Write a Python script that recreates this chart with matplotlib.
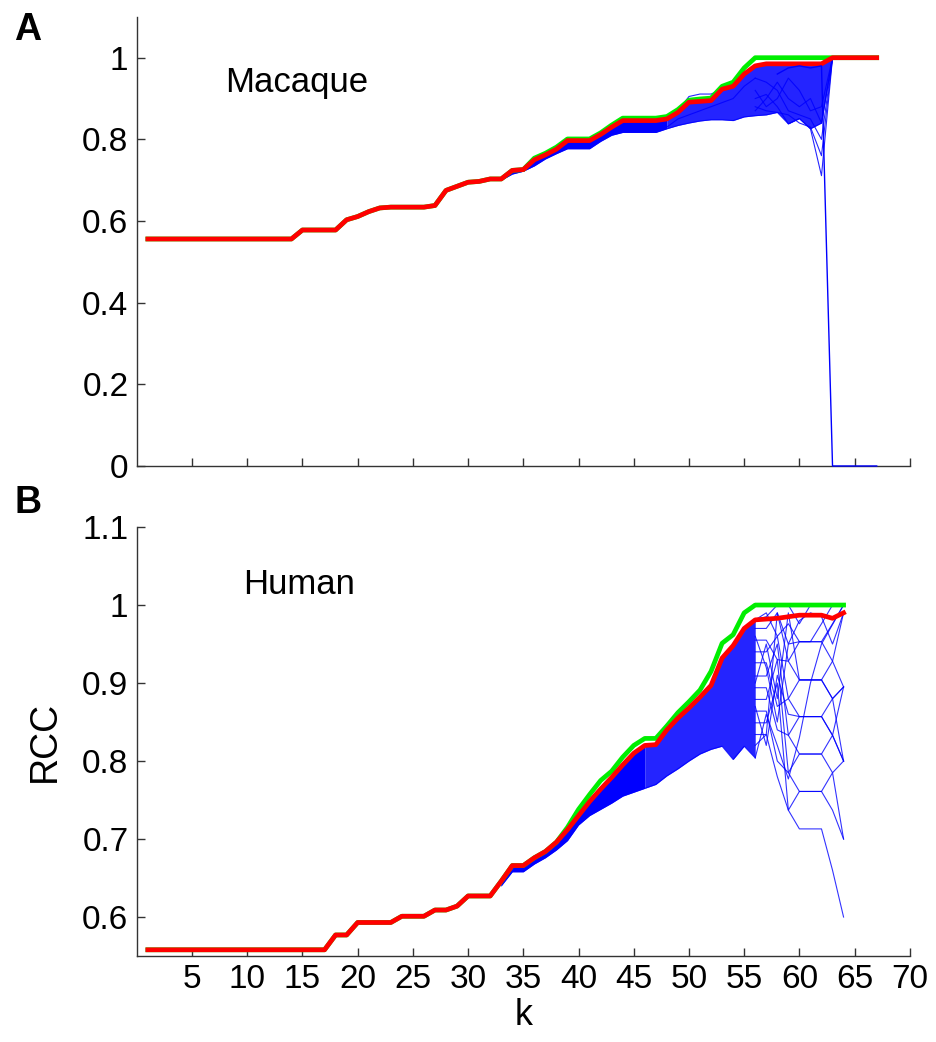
import matplotlib
matplotlib.use("Agg")
import matplotlib.pyplot as plt
import numpy as np

plt.rcParams["font.family"] = ["Liberation Sans", "DejaVu Sans"]

# ---- Panel A: macaque ----
k_mac = np.arange(1, 68)
mac_red = [0.556, 0.556, 0.556, 0.556, 0.556, 0.556, 0.556, 0.556, 0.556, 0.556,
           0.556, 0.556, 0.556, 0.556, 0.578, 0.578, 0.578, 0.578, 0.603, 0.611,
           0.623, 0.632, 0.634, 0.634, 0.634, 0.634, 0.638, 0.675, 0.685, 0.695,
           0.697, 0.703, 0.703, 0.724, 0.726, 0.750, 0.762, 0.776, 0.797, 0.797,
           0.797, 0.812, 0.830, 0.846, 0.846, 0.846, 0.846, 0.850, 0.866, 0.891,
           0.893, 0.895, 0.923, 0.930, 0.960, 0.980, 0.985, 0.985, 0.985, 0.985,
           0.985, 0.985, 1.000, 1.000, 1.000, 1.000, 1.000]
mac_green = [0.556, 0.556, 0.556, 0.556, 0.556, 0.556, 0.556, 0.556, 0.556, 0.556,
             0.556, 0.556, 0.556, 0.556, 0.578, 0.578, 0.578, 0.578, 0.603, 0.611,
             0.623, 0.632, 0.634, 0.634, 0.634, 0.634, 0.638, 0.675, 0.685, 0.695,
             0.697, 0.703, 0.703, 0.724, 0.726, 0.754, 0.766, 0.781, 0.801, 0.801,
             0.801, 0.816, 0.835, 0.852, 0.852, 0.852, 0.852, 0.856, 0.873, 0.896,
             0.899, 0.901, 0.930, 0.940, 0.975, 1.000, 1.000, 1.000, 1.000, 1.000,
             1.000, 1.000, 1.000, 1.000, 1.000, 1.000, 1.000]
# lower edge of the random-network bundle
mac_env_k = np.arange(33, 64)
mac_env = [0.700, 0.715, 0.722, 0.735, 0.752, 0.765, 0.777, 0.777, 0.777, 0.795,
           0.810, 0.817, 0.817, 0.817, 0.817, 0.826, 0.834, 0.840, 0.845, 0.848,
           0.848, 0.846, 0.855, 0.858, 0.860, 0.866, 0.838, 0.851, 0.826, 0.840,
           1.000]
# single random curves that stand out
mac_blue_lines = [
    (np.arange(43, 55), [0.835, 0.852, 0.852, 0.852, 0.852, 0.852, 0.870, 0.905,
                         0.911, 0.911, 0.923, 0.930]),
    (np.arange(56, 64), [0.900, 0.910, 0.880, 0.838, 0.851, 0.826, 0.711, 1.000]),
    (np.arange(56, 64), [0.880, 0.870, 0.866, 0.860, 0.840, 0.830, 0.760, 1.000]),
    (np.arange(56, 64), [0.950, 0.940, 0.920, 0.870, 0.860, 0.850, 0.800, 1.000]),
    (np.arange(56, 64), [0.870, 0.900, 0.940, 0.900, 0.880, 0.900, 0.840, 1.000]),
    (np.arange(56, 64), [0.920, 0.880, 0.900, 0.950, 0.920, 0.870, 0.880, 1.000]),
    (np.arange(48, 57), [0.830, 0.850, 0.860, 0.870, 0.880, 0.890, 0.900, 0.930, 0.950]),
]
mac_drop_k = np.arange(58, 68)
mac_drop = [0.960, 0.975, 0.980, 0.975, 0.980, 0.000, 0.000, 0.000, 0.000, 0.000]

# ---- Panel B: human ----
k_hum = np.arange(1, 65)
hum_red = [0.558, 0.558, 0.558, 0.558, 0.558, 0.558, 0.558, 0.558, 0.558, 0.558,
           0.558, 0.558, 0.558, 0.558, 0.558, 0.558, 0.558, 0.577, 0.577, 0.593,
           0.593, 0.593, 0.593, 0.601, 0.601, 0.601, 0.609, 0.609, 0.614, 0.627,
           0.627, 0.627, 0.646, 0.666, 0.666, 0.676, 0.684, 0.696, 0.712, 0.730,
           0.748, 0.764, 0.779, 0.795, 0.810, 0.820, 0.821, 0.840, 0.855, 0.868,
           0.882, 0.897, 0.932, 0.948, 0.970, 0.981, 0.982, 0.983, 0.985, 0.987,
           0.987, 0.987, 0.983, 0.990]
hum_green = [0.558, 0.558, 0.558, 0.558, 0.558, 0.558, 0.558, 0.558, 0.558, 0.558,
             0.558, 0.558, 0.558, 0.558, 0.558, 0.558, 0.558, 0.577, 0.577, 0.593,
             0.593, 0.593, 0.593, 0.601, 0.601, 0.601, 0.609, 0.609, 0.614, 0.627,
             0.627, 0.627, 0.646, 0.666, 0.666, 0.676, 0.684, 0.696, 0.715, 0.738,
             0.757, 0.775, 0.787, 0.805, 0.820, 0.829, 0.829, 0.845, 0.862, 0.876,
             0.891, 0.915, 0.951, 0.962, 0.990, 1.000, 1.000, 1.000, 1.000, 1.000,
             1.000, 1.000, 1.000, 1.000]
hum_env_k = np.arange(33, 57)
hum_env = [0.640, 0.658, 0.658, 0.668, 0.676, 0.686, 0.698, 0.718, 0.730, 0.738,
           0.746, 0.755, 0.760, 0.765, 0.770, 0.781, 0.790, 0.800, 0.809, 0.815,
           0.819, 0.802, 0.819, 0.804]
# tail of the random curves, k = 56..64
hum_tail_k = np.arange(56, 65)
hum_tail = [
    [0.970, 0.970, 0.990, 0.928, 0.953, 0.953, 0.953, 0.928, 0.895],
    [0.955, 0.955, 0.930, 0.928, 0.904, 0.904, 0.904, 0.928, 0.990],
    [0.940, 0.940, 0.960, 0.880, 0.904, 0.904, 0.904, 0.880, 0.800],
    [0.926, 0.926, 0.870, 0.880, 0.857, 0.857, 0.857, 0.880, 0.895],
    [0.909, 0.909, 0.950, 0.833, 0.857, 0.857, 0.857, 0.833, 0.895],
    [0.894, 0.894, 0.840, 0.833, 0.809, 0.809, 0.809, 0.833, 0.800],
    [0.879, 0.879, 0.930, 0.785, 0.809, 0.809, 0.809, 0.785, 0.800],
    [0.864, 0.864, 0.800, 0.785, 0.761, 0.761, 0.761, 0.785, 0.700],
    [0.849, 0.849, 0.900, 0.737, 0.761, 0.761, 0.761, 0.737, 0.700],
    [0.834, 0.834, 0.780, 0.737, 0.713, 0.713, 0.713, 0.660, 0.600],
    [0.981, 0.985, 1.000, 1.000, 0.976, 1.000, 1.000, 1.000, 1.000],
    [0.981, 0.990, 0.960, 0.976, 0.953, 0.953, 0.976, 1.000, 1.000],
    [0.820, 0.834, 0.990, 0.950, 0.980, 0.990, 0.985, 0.950, 0.990],
    [0.804, 0.860, 0.820, 0.777, 0.830, 0.900, 0.950, 0.975, 1.000],
    [0.960, 0.920, 0.850, 0.950, 0.953, 0.953, 0.953, 0.976, 1.000],
    [0.900, 0.950, 0.880, 0.990, 0.904, 0.904, 0.904, 0.880, 0.895],
    [0.870, 0.820, 0.910, 0.860, 0.857, 0.857, 0.857, 0.833, 0.800],
]

BLUE = "#0000ff"
GREEN = "#00ee00"
RED = "#ff0000"

fig = plt.figure(figsize=(9.37, 10.42), dpi=100)
ax_a = fig.add_axes([0.146, 0.5528, 0.825, 0.431])
ax_b = fig.add_axes([0.146, 0.0825, 0.825, 0.4117])


def style_axis(ax):
    for side in ("top", "right"):
        ax.spines[side].set_visible(False)
    for side in ("left", "bottom"):
        ax.spines[side].set_linewidth(1.0)
        ax.spines[side].set_color("#333333")
    ax.tick_params(direction="in", length=6, width=1, color="#333333",
                   labelsize=24, pad=6)
    ax.set_xlim(0, 70)
    ax.set_xticks(np.arange(5, 71, 5))


def draw_bundle(ax, k, red, env_k, env, split):
    red_arr = np.asarray(red)
    upper = red_arr[env_k - k[0]]
    env = np.asarray(env)
    n = split - env_k[0] + 1
    ax.fill_between(env_k[:n], env[:n], upper[:n], color=BLUE, lw=0)
    ax.fill_between(env_k[n - 1:], env[n - 1:], upper[n - 1:],
                    color=BLUE, alpha=0.86, lw=0)
    ax.plot(env_k, env, color=BLUE, lw=0.8, alpha=0.8)


# Panel A
style_axis(ax_a)
draw_bundle(ax_a, k_mac, mac_red, mac_env_k, mac_env, 48)
for kk, vals in mac_blue_lines:
    ax_a.plot(kk, vals, color=BLUE, lw=0.8, alpha=0.85)
ax_a.plot(mac_drop_k, mac_drop, color=BLUE, lw=1.0, clip_on=False, zorder=4)
ax_a.plot(k_mac, mac_green, color=GREEN, lw=3.4, solid_joinstyle="round")
ax_a.plot(k_mac, mac_red, color=RED, lw=3.4, solid_joinstyle="round")
ax_a.set_ylim(0, 1.1)
ax_a.set_yticks([0, 0.2, 0.4, 0.6, 0.8, 1.0])
ax_a.set_yticklabels(["0", "0.2", "0.4", "0.6", "0.8", "1"])
ax_a.set_xticklabels([])
ax_a.text(8.0, 0.939, "Macaque", fontsize=25, va="center", ha="left")

# Panel B
style_axis(ax_b)
draw_bundle(ax_b, k_hum, hum_red, hum_env_k, hum_env, 46)
for vals in hum_tail:
    ax_b.plot(hum_tail_k, vals, color=BLUE, lw=0.8, alpha=0.8)
ax_b.plot(k_hum, hum_green, color=GREEN, lw=3.4, solid_joinstyle="round")
ax_b.plot(k_hum, hum_red, color=RED, lw=3.4, solid_joinstyle="round")
ax_b.set_ylim(0.55, 1.1)
ax_b.set_yticks([0.6, 0.7, 0.8, 0.9, 1.0, 1.1])
ax_b.set_yticklabels(["0.6", "0.7", "0.8", "0.9", "1", "1.1"])
ax_b.set_xticklabels([str(v) for v in range(5, 71, 5)])
ax_b.text(9.6, 1.026, "Human", fontsize=25, va="center", ha="left")
ax_b.set_xlabel("k", fontsize=26, labelpad=2)
ax_b.set_ylabel("RCC", fontsize=27, labelpad=14)

fig.text(0.030, 0.971, "A", fontsize=27, fontweight="bold", va="center", ha="center")
fig.text(0.030, 0.517, "B", fontsize=27, fontweight="bold", va="center", ha="center")

fig.savefig("out.png", dpi=100)
